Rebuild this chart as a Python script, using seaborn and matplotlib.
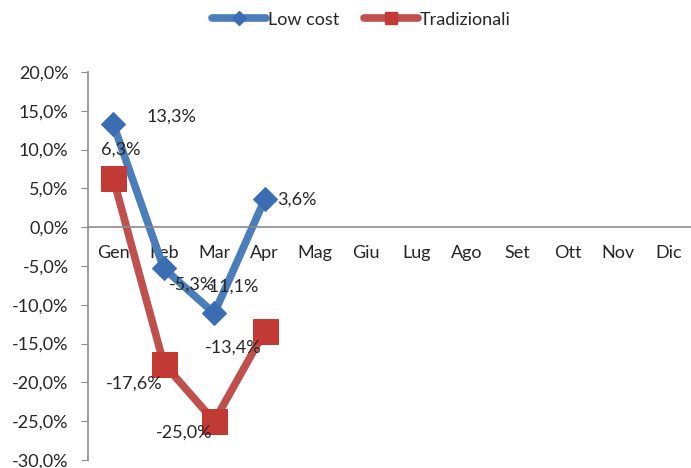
import pandas as pd
import seaborn as sns
import matplotlib.pyplot as plt
from matplotlib.lines import Line2D

# data
months = ['Gen', 'Feb', 'Mar', 'Apr', 'Mag', 'Giu', 'Lug', 'Ago', 'Set', 'Ott', 'Nov', 'Dic']
low_cost = [13.3, -5.3, -11.1, 3.6]
tradizionali = [6.3, -17.6, -25.0, -13.4]

blue = '#4a7ebb'
blue_mk = '#3b6db3'
red = '#c0504d'
red_mk = '#c23a34'
axis_col = '#8c8c8c'
fs = 13

sns.set_style('white')
plt.rcParams['font.family'] = ['Lato', 'DejaVu Sans']

df = pd.concat([
    pd.DataFrame({'x': range(len(low_cost)), 'val': low_cost, 'serie': 'Low cost'}),
    pd.DataFrame({'x': range(len(tradizionali)), 'val': tradizionali, 'serie': 'Tradizionali'}),
])

fig = plt.figure(figsize=(6.91, 4.68), dpi=100)
ax = fig.add_axes([88 / 691, 1 - 460 / 468, 606 / 691, 388 / 468])

sns.lineplot(data=df[df.serie == 'Low cost'], x='x', y='val', color=blue, lw=5.5,
             marker='D', markersize=12, markerfacecolor=blue_mk, markeredgecolor=blue_mk, ax=ax)
sns.lineplot(data=df[df.serie == 'Tradizionali'], x='x', y='val', color=red, lw=5.5,
             marker='s', markersize=18, markerfacecolor=red_mk, markeredgecolor=red_mk, ax=ax)

def fmt(v):
    return f'{v:.1f}%'.replace('.', ',')

# label offsets (points) like the excel labels
off_low = [(24, 5), (4, -12), (-8, 19), (9, 0)]
off_trad = [(-9, 21), (-42, -14), (-42, -8), (-43, -12)]
for i, v in enumerate(low_cost):
    ax.annotate(fmt(v), (i, v), xytext=off_low[i], textcoords='offset points',
                ha='left', va='center', fontsize=fs)
for i, v in enumerate(tradizionali):
    ax.annotate(fmt(v), (i, v), xytext=off_trad[i], textcoords='offset points',
                ha='left', va='center', fontsize=fs)

ax.set_xlim(-0.5, 11.5)
ax.set_ylim(-30, 20)
ax.set_yticks(range(-30, 21, 5))
ax.set_yticklabels([fmt(t) for t in range(-30, 21, 5)])

# ticks at category boundaries, labels at centers
ax.set_xticks([i - 0.5 for i in range(13)])
ax.set_xticklabels([])
ax.set_xticks(range(12), minor=True)
ax.set_xticklabels(months, minor=True)
ax.tick_params(axis='x', which='major', direction='out', length=5, color=axis_col)
ax.tick_params(axis='x', which='minor', length=0, pad=13, labelsize=fs)
ax.tick_params(axis='y', direction='out', length=5, color=axis_col, left=True, pad=9, labelsize=fs)

ax.spines['bottom'].set_position(('data', 0))
for s in ['top', 'right']:
    ax.spines[s].set_visible(False)
for s in ['left', 'bottom']:
    ax.spines[s].set_color(axis_col)
    ax.spines[s].set_linewidth(1.2)
ax.set_xlabel('')
ax.set_ylabel('')

handles = [
    Line2D([], [], color=blue, lw=5.5, marker='D', markersize=7, markerfacecolor=blue_mk, markeredgecolor=blue_mk),
    Line2D([], [], color=red, lw=5.5, marker='s', markersize=9, markerfacecolor=red_mk, markeredgecolor=red_mk),
]
fig.legend(handles, ['Low cost', 'Tradizionali'], loc='center', bbox_to_anchor=(0.523, 0.958),
           ncol=2, frameon=False, fontsize=fs, handlelength=3.0, handletextpad=0.1, columnspacing=1.4)

fig.savefig('out.png', dpi=100)
